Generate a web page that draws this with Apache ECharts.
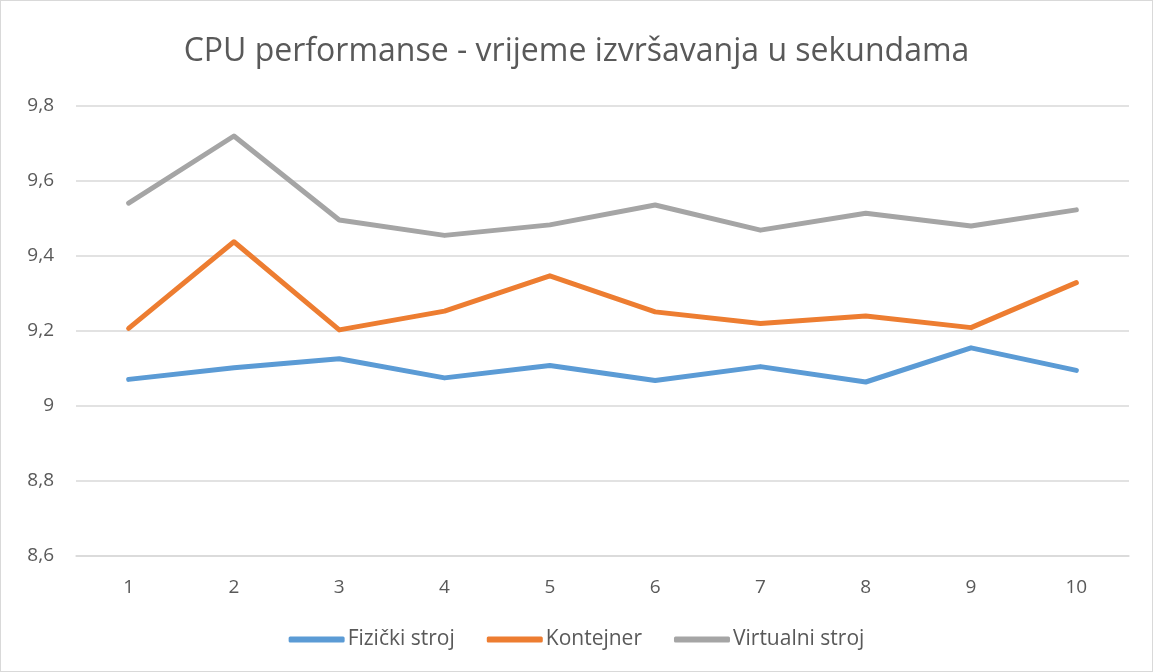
<!DOCTYPE html>
<html>
<head>
<meta charset="utf-8">
<script src="https://cdn.jsdelivr.net/npm/echarts@6/dist/echarts.min.js"></script>
<style>
  html, body { margin: 0; padding: 0; background: #fff; }
  #chart { width: 1151px; height: 670px; border: 1px solid #d9d9d9; }
</style>
</head>
<body>
<div id="chart"></div>
<script>
// podaci (očitano sa slike)
var categories = ['1', '2', '3', '4', '5', '6', '7', '8', '9', '10'];
var fizicki = [9.071, 9.102, 9.126, 9.075, 9.108, 9.068, 9.105, 9.064, 9.155, 9.095];
var kontejner = [9.207, 9.438, 9.203, 9.253, 9.347, 9.251, 9.220, 9.240, 9.209, 9.329];
var virtualni = [9.541, 9.720, 9.496, 9.455, 9.483, 9.536, 9.469, 9.514, 9.480, 9.523];

var fontFam = '"Open Sans", "Noto Sans", sans-serif';

function serie(name, data, color) {
    return {
        name: name,
        type: 'line',
        data: data,
        symbol: 'none',
        lineStyle: { width: 5, color: color, cap: 'round', join: 'round' },
        itemStyle: { color: color }
    };
}

var chart = echarts.init(document.getElementById('chart'));
chart.setOption({
    animation: false,
    title: {
        text: 'CPU performanse - vrijeme izvršavanja u sekundama',
        left: 'center',
        top: 30,
        textStyle: { fontFamily: fontFam, fontSize: 32, fontWeight: 'normal', color: '#595959' }
    },
    legend: {
        bottom: 16,
        left: 'center',
        itemWidth: 56,
        itemHeight: 6,
        itemGap: 32,
        icon: 'roundRect',
        textStyle: { fontFamily: fontFam, fontSize: 21, color: '#595959', padding: [0, 0, 0, -2] },
        data: ['Fizički stroj', 'Kontejner', 'Virtualni stroj']
    },
    grid: { left: 75, right: 23, top: 105, bottom: 115 },
    xAxis: {
        type: 'category',
        data: categories,
        boundaryGap: true,
        axisLine: { show: true, lineStyle: { color: '#d9d9d9', width: 1.5 } },
        axisTick: { show: false },
        axisLabel: { fontFamily: fontFam, fontSize: 19, color: '#595959', margin: 22 }
    },
    yAxis: {
        type: 'value',
        min: 8.6,
        max: 9.8,
        interval: 0.2,
        axisLine: { show: false },
        axisTick: { show: false },
        splitLine: { lineStyle: { color: '#d9d9d9', width: 1.5 } },
        axisLabel: {
            fontFamily: fontFam, fontSize: 19, color: '#595959', margin: 22,
            formatter: function (v) {
                var r = Math.round(v * 10) / 10;
                return String(r).replace('.', ',');
            }
        }
    },
    series: [
        serie('Fizički stroj', fizicki, '#5b9bd5'),
        serie('Kontejner', kontejner, '#ed7d31'),
        serie('Virtualni stroj', virtualni, '#a5a5a5')
    ]
});
</script>
</body>
</html>
